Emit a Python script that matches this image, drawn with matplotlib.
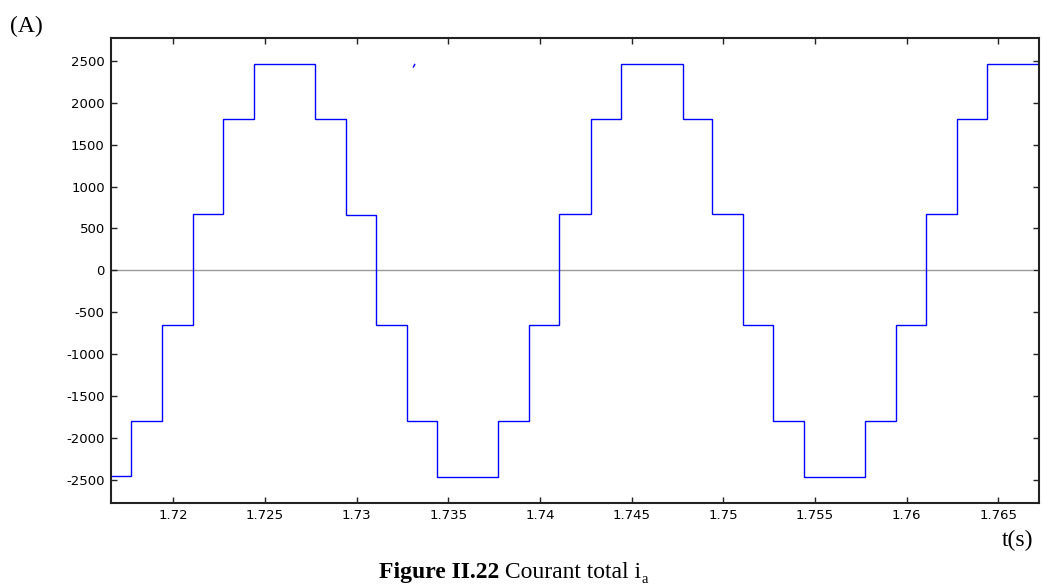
import matplotlib
matplotlib.use("Agg")
import matplotlib.pyplot as plt
import numpy as np

# ---- data ----
# step edges (s) and the current level held on each interval (A)
t_edges = [1.7166, 1.71768, 1.71940, 1.72109, 1.72273, 1.72442, 1.72775, 1.72940,
           1.73106, 1.73276, 1.73440, 1.73770, 1.73942, 1.74104, 1.74277, 1.74442,
           1.74779, 1.74940, 1.75109, 1.75273, 1.75440, 1.75773, 1.75944, 1.76107,
           1.76277, 1.76440, 1.7672]
i_levels = [-2450, -1790, -650, 670, 1800, 2460, 1800, 665,
            -650, -1795, -2460, -1795, -650, 670, 1805, 2465,
            1805, 670, -650, -1795, -2460, -1795, -650, 670,
            1805, 2465]
# small stray trace near t = 1.7331
glitch_t = [1.73310, 1.73317]
glitch_i = [2425, 2455]

x_ticks = [1.72, 1.725, 1.73, 1.735, 1.74, 1.745, 1.75, 1.755, 1.76, 1.765]
x_tick_labels = ["1.72", "1.725", "1.73", "1.735", "1.74", "1.745", "1.75", "1.755", "1.76", "1.765"]
y_ticks = [-2500, -2000, -1500, -1000, -500, 0, 500, 1000, 1500, 2000, 2500]
y_tick_labels = [str(v) for v in y_ticks]

W, H = 1042, 585
fig = plt.figure(figsize=(W / 100, H / 100), dpi=100)
ax = fig.add_axes([0.1065, 0.1407, 0.8909, 0.7938])

ax.axhline(0, xmin=0.0, xmax=0.992, color='#9a9a9a', lw=1.0, zorder=1)
ax.stairs(i_levels, t_edges, baseline=None, color='#0000ff', lw=1.0, zorder=2)
ax.plot(glitch_t, glitch_i, color='#0000ff', lw=1.0, zorder=2)

ax.set_xlim(1.716602, 1.767236)
ax.set_ylim(-2770, 2767)
ax.set_xticks(x_ticks)
ax.set_xticklabels(x_tick_labels)
ax.set_yticks(y_ticks)
ax.set_yticklabels(y_tick_labels)

ax.tick_params(direction='in', length=4.5, width=1.0, color='#222222',
               top=True, right=True, labelsize=9.5, pad=4.5)
for lab in ax.get_xticklabels() + ax.get_yticklabels():
    lab.set_family('DejaVu Sans')
for s in ax.spines.values():
    s.set_linewidth(1.5)
    s.set_color('#222222')

serif = 'Liberation Serif'
fig.text(0.0096, 0.945, "(A)", family=serif, fontsize=17, va='baseline', ha='left')
fig.text(0.9914, 0.0667, "t(s)", family=serif, fontsize=17, va='baseline', ha='right')

# caption built from pieces: bold part, regular part, subscript
cap_size = 17
base_y = 0.012
renderer = fig.canvas.get_renderer()
t1 = fig.text(0, base_y, "Figure II.22", family=serif, weight='bold', fontsize=cap_size,
              va='baseline', ha='left')
t2 = fig.text(0, base_y, " Courant total i", family=serif, fontsize=cap_size,
              va='baseline', ha='left')
t3 = fig.text(0, base_y - 0.008, "a", family=serif, fontsize=cap_size * 0.62,
              va='baseline', ha='left')
w1 = t1.get_window_extent(renderer).width
w2 = t2.get_window_extent(renderer).width
w3 = t3.get_window_extent(renderer).width
total = w1 + w2 + w3
x0 = 513 - total / 2
t1.set_x(x0 / W)
t2.set_x((x0 + w1) / W)
t3.set_x((x0 + w1 + w2) / W)

fig.savefig("out.png", dpi=100)
